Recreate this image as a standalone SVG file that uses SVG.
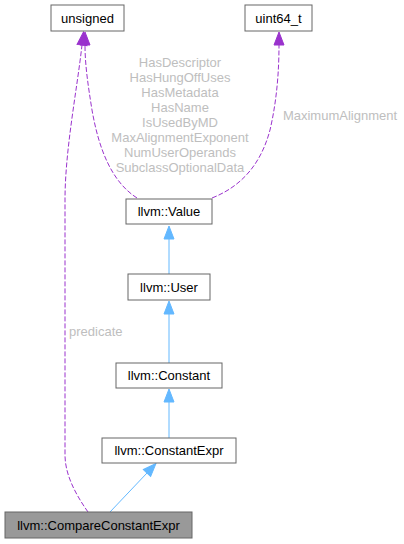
<svg xmlns="http://www.w3.org/2000/svg" width="404" height="544" viewBox="0 0 404 544">
<style>
.node rect{fill:#ffffff;stroke:#666666;stroke-width:1}
.node.hl rect{fill:#999999}
.node text{font-family:"Liberation Sans",Arial,sans-serif;font-size:13px;fill:#000000;text-anchor:middle}
.lbl{font-family:"Liberation Sans",Arial,sans-serif;font-size:13px;fill:#bebebe}
.inh{fill:none;stroke:#63b8ff;stroke-width:1}
.use{fill:none;stroke:#9a32cd;stroke-width:1;stroke-dasharray:5,2}
</style>
<defs>
<marker id="ab" markerUnits="userSpaceOnUse" markerWidth="14" markerHeight="11" refX="0" refY="5" orient="auto" overflow="visible">
<path d="M0,0 L13,5 L0,10 z" fill="#63b8ff" stroke="#63b8ff" stroke-width="1"/>
</marker>
<marker id="ap" markerUnits="userSpaceOnUse" markerWidth="14" markerHeight="11" refX="0" refY="5" orient="auto" overflow="visible">
<path d="M0,0 L13,5 L0,10 z" fill="#9a32cd" stroke="#9a32cd" stroke-width="1"/>
</marker>
</defs>
<g id="edges">
<path class="inh" d="M169,274 L169,239" marker-end="url(#ab)"/>
<path class="inh" d="M169,363 L169,314" marker-end="url(#ab)"/>
<path class="inh" d="M169,438 L169,402" marker-end="url(#ab)"/>
<path class="inh" d="M110,512 L147,473" marker-end="url(#ab)"/>
<path class="use" d="M137,198 C112,182 99,150 92,110 C88,85 85,65 85,45" marker-end="url(#ap)"/>
<path class="use" d="M212,198 C245,185 262,160 270,130 C277,100 279,70 279,45" marker-end="url(#ap)"/>
<path class="use" d="M88,512 C76,495 65,475 65,455 L65,200 C65,150 77,90 82,45" marker-end="url(#ap)"/>
<g class="lbl" text-anchor="middle">
<text x="180" y="66.8">HasDescriptor</text>
<text x="180" y="81.8">HasHungOffUses</text>
<text x="180" y="96.8">HasMetadata</text>
<text x="180" y="111.8">HasName</text>
<text x="180" y="126.8">IsUsedByMD</text>
<text x="180" y="141.8">MaxAlignmentExponent</text>
<text x="180" y="156.8">NumUserOperands</text>
<text x="180" y="171.8">SubclassOptionalData</text>
<text x="340" y="120.2">MaximumAlignment</text>
</g>
<text class="lbl" x="69" y="336.2">predicate</text>
</g>
<g id="node_unsigned" class="node"><rect x="51" y="5" width="73" height="26"/><text x="87.5" y="22.5">unsigned</text></g>
<g id="node_uint64_t" class="node"><rect x="245" y="5" width="67" height="26"/><text x="278.5" y="22.5">uint64_t</text></g>
<g id="node_value" class="node"><rect x="126" y="199" width="86" height="25"/><text x="169" y="216">llvm::Value</text></g>
<g id="node_user" class="node"><rect x="128" y="274" width="82" height="26"/><text x="169" y="291.5">llvm::User</text></g>
<g id="node_constant" class="node"><rect x="116" y="363" width="106" height="25"/><text x="169" y="380">llvm::Constant</text></g>
<g id="node_constantexpr" class="node"><rect x="102" y="438" width="134" height="25"/><text x="169" y="455">llvm::ConstantExpr</text></g>
<g id="node_compareconstantexpr" class="node hl"><rect x="5" y="512" width="187" height="26"/><text x="98.5" y="529.5">llvm::CompareConstantExpr</text></g>
</svg>
